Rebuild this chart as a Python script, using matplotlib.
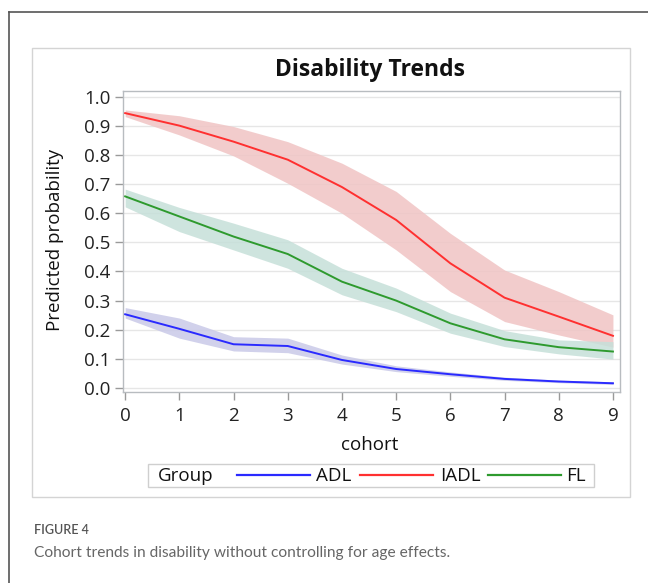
import matplotlib
matplotlib.use("Agg")
import matplotlib.pyplot as plt
from matplotlib.patches import Rectangle
from matplotlib.lines import Line2D

plt.rcParams['font.family'] = ['Open Sans', 'DejaVu Sans']

cohort = [0, 1, 2, 3, 4, 5, 6, 7, 8, 9]
groups = ["ADL", "IADL", "FL"]

adl = [0.253, 0.203, 0.150, 0.144, 0.096, 0.065, 0.047, 0.031, 0.022, 0.016]
adl_lo = [0.240, 0.171, 0.127, 0.121, 0.082, 0.056, 0.040, 0.026, 0.018, 0.012]
adl_hi = [0.276, 0.240, 0.176, 0.171, 0.113, 0.076, 0.055, 0.037, 0.027, 0.021]

iadl = [0.944, 0.901, 0.846, 0.784, 0.690, 0.577, 0.428, 0.310, 0.245, 0.179]
iadl_lo = [0.932, 0.869, 0.797, 0.703, 0.600, 0.474, 0.331, 0.228, 0.182, 0.140]
iadl_hi = [0.955, 0.935, 0.898, 0.846, 0.772, 0.675, 0.531, 0.405, 0.331, 0.251]

fl = [0.658, 0.589, 0.520, 0.460, 0.365, 0.300, 0.222, 0.167, 0.140, 0.125]
fl_lo = [0.622, 0.537, 0.474, 0.411, 0.320, 0.262, 0.188, 0.142, 0.117, 0.099]
fl_hi = [0.683, 0.620, 0.566, 0.509, 0.411, 0.343, 0.257, 0.197, 0.165, 0.159]

yticks = [0.0, 0.1, 0.2, 0.3, 0.4, 0.5, 0.6, 0.7, 0.8, 0.9, 1.0]

W, H = 648, 583
fig = plt.figure(figsize=(W / 100, H / 100), dpi=100)


def fx(px):
    return px / W


def fy(py):
    return 1 - py / H


# outer frame (top and left lines)
fig.add_artist(Line2D([fx(9), fx(9)], [0, fy(12)], color='#555555', lw=1.2))
fig.add_artist(Line2D([fx(9), 1], [fy(12), fy(12)], color='#555555', lw=1.2))
# inner light box
fig.add_artist(Rectangle((fx(32), fy(497)), (630 - 32) / W, (497 - 48) / H,
                         fill=False, ec='#d4d4d4', lw=1.0))

ax = fig.add_axes([fx(123), fy(392), 497 / W, 301 / H])

cols = {"ADL": "#2a2aff", "IADL": "#ff3030", "FL": "#2e9a2e"}
fills = {"ADL": "#c9c9e8", "IADL": "#f0c4c4", "FL": "#c6e0d9"}
data = {"ADL": (adl, adl_lo, adl_hi), "IADL": (iadl, iadl_lo, iadl_hi), "FL": (fl, fl_lo, fl_hi)}

for g in groups:
    m, lo, hi = data[g]
    ax.fill_between(cohort, lo, hi, color=fills[g], alpha=0.85, lw=0, zorder=2)
for g in groups:
    m, lo, hi = data[g]
    ax.plot(cohort, m, color=cols[g], lw=1.4, zorder=3, label=g)

ax.set_xlim(-0.04, 9.13)
ax.set_ylim(-0.014, 1.02)
ax.set_xticks(cohort)
ax.set_yticks(yticks)
ax.set_yticklabels([f"{v:.1f}" for v in yticks])
ax.grid(axis='y', color='#e6e6e6', lw=1.0, zorder=0)
ax.set_axisbelow(True)
for s in ax.spines.values():
    s.set_color('#b8bcc0')
    s.set_linewidth(1.0)
ax.tick_params(axis='both', colors='#9a9a9a', labelcolor='#222222', labelsize=13.5,
               length=6, width=1, pad=3)
ax.tick_params(axis='x', pad=5)

fig.text(fx(370), fy(70), "Disability Trends", fontsize=16.5, fontweight='bold',
         color='#111111', ha='center', va='center')
fig.text(fx(55), fy(240), "Predicted probability", fontsize=13.5, rotation=90,
         color='#111111', ha='center', va='center')
fig.text(fx(370), fy(445), "cohort", fontsize=13.5, color='#111111', ha='center', va='center')

# legend
fig.add_artist(Rectangle((fx(148), fy(487)), (594 - 148) / W, (487 - 464) / H,
                         fill=False, ec='#cfcfcf', lw=1.0))
fig.text(fx(158), fy(476), "Group", fontsize=13.5, va='center', ha='left', color='#111111')
leg_lines = {"ADL": (237, 310, 316), "IADL": (360, 433, 440), "FL": (488, 561, 566)}
for g in groups:
    x0, x1, xt = leg_lines[g]
    fig.add_artist(Line2D([fx(x0), fx(x1)], [fy(475), fy(475)], color=cols[g], lw=1.6))
    fig.text(fx(xt), fy(476), g, fontsize=13.5, va='center', ha='left', color='#111111')

fig.text(fx(34), fy(530), "FIGURE 4", fontsize=9, color='#555555', va='center',
         family=['Lato', 'DejaVu Sans'], fontweight='semibold')
fig.text(fx(34), fy(553), "Cohort trends in disability without controlling for age effects.",
         fontsize=11.2, color='#666666', va='center', family=['Lato', 'DejaVu Sans'])

fig.savefig("out.png", dpi=100)
